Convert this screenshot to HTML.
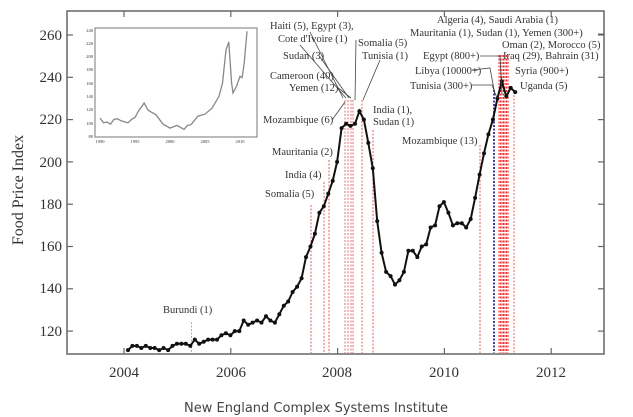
<!DOCTYPE html>
<html><head><meta charset="utf-8"><style>
html,body{margin:0;padding:0;background:#fff;}
svg{display:block;}
text{font-family:"Liberation Serif",serif;fill:#333;}
</style></head><body>
<svg id="s" width="633" height="417" viewBox="0 0 633 417" xmlns="http://www.w3.org/2000/svg">
<rect width="633" height="417" fill="#fff"/>
<g id="vl"></g>
<rect x="67" y="11" width="537" height="343" fill="none" stroke="#666" stroke-width="1.5"/>
<g stroke="#666" stroke-width="1.2" id="ticks"></g>
<g font-size="15" text-anchor="end">
<text x="62" y="40">260</text><text x="62" y="82">240</text><text x="62" y="124">220</text>
<text x="62" y="167">200</text><text x="62" y="209">180</text><text x="62" y="251">160</text>
<text x="62" y="293">140</text><text x="62" y="336">120</text>
</g>
<g font-size="15" text-anchor="middle">
<text x="124" y="377">2004</text><text x="231" y="377">2006</text><text x="337" y="377">2008</text>
<text x="444" y="377">2010</text><text x="551" y="377">2012</text>
</g>
<text transform="translate(23,190) rotate(-90)" font-size="16" text-anchor="middle">Food Price Index</text>
<rect x="95" y="28" width="162" height="109" fill="#fff" stroke="#777" stroke-width="1"/>
<g font-size="4.5" text-anchor="middle" fill="#555">
<text x="100" y="143">1990</text><text x="135" y="143">1995</text><text x="170" y="143">2000</text><text x="205" y="143">2005</text><text x="240" y="143">2010</text>
</g>
<g font-size="4.5" text-anchor="end">
<text x="93" y="32">240</text><text x="93" y="45">220</text><text x="93" y="58">200</text><text x="93" y="71">180</text><text x="93" y="85">160</text><text x="93" y="98">140</text><text x="93" y="111">120</text><text x="93" y="125">100</text><text x="93" y="138">80</text>
</g>
<path id="ins" fill="none" stroke="#888" stroke-width="1.3"/>
<path id="main" fill="none" stroke="#111" stroke-width="2"/>
<g id="dots" fill="#111"></g>
<g font-size="10.5" fill="#333">
<text x="163" y="313">Burundi (1)</text>
<text x="270" y="29">Haiti (5), Egypt (3),</text>
<text x="278" y="42">Cote d'Ivoire (1)</text>
<text x="283" y="59">Sudan (3)</text>
<text x="270" y="79">Cameroon (40)</text>
<text x="289" y="91">Yemen (12)</text>
<text x="263" y="123">Mozambique (6)</text>
<text x="272" y="155">Mauritania (2)</text>
<text x="285" y="178">India (4)</text>
<text x="265" y="197">Somalia (5)</text>
<text x="358" y="46">Somalia (5)</text>
<text x="362" y="59">Tunisia (1)</text>
<text x="373" y="113">India (1),</text>
<text x="373" y="125">Sudan (1)</text>
<text x="402" y="144">Mozambique (13)</text>
<text x="437" y="23">Algeria (4), Saudi Arabia (1)</text>
<text x="410" y="36">Mauritania (1), Sudan (1), Yemen (300+)</text>
<text x="502" y="48">Oman (2), Morocco (5)</text>
<text x="423" y="59">Egypt (800+)</text>
<text x="503" y="59">Iraq (29), Bahrain (31)</text>
<text x="415" y="74">Libya (10000+)</text>
<text x="515" y="74">Syria (900+)</text>
<text x="410" y="89">Tunisia (300+)</text>
<text x="520" y="89">Uganda (5)</text>
</g>
<g stroke="#444" stroke-width="0.8" fill="none">
<path d="M310 32 L343 98"/><path d="M300 45 L346 98"/><path d="M320 57 L349 98"/>
<path d="M337 87 L351 98"/><path d="M332 120 L345 102"/>
<path d="M356 40 L355 100"/><path d="M380 60 L363 100"/>
<path d="M480 56 L500 56 L502 95"/><path d="M472 70 L490 68 L495 95"/><path d="M472 85 L492 85 L497 98"/>
<path d="M598 34 L604 34"/>
</g>
<text x="316" y="412" font-size="13" text-anchor="middle" style="font-family:'DejaVu Sans',sans-serif;fill:#444">New England Complex Systems Institute</text>
</svg>
<script>
function X(t){return 124+(t-2004)*53.4;}
function Y(v){return 35+(260-v)*2.115;}
var t=document.getElementById('ticks'),h='';
[260,240,220,200,180,160,140,120].forEach(function(v){var y=Y(v);h+='<line x1="67" y1="'+y+'" x2="73" y2="'+y+'"/><line x1="598" y1="'+y+'" x2="604" y2="'+y+'"/>';});
[2004,2006,2008,2010,2012].forEach(function(yr){var x=X(yr);h+='<line x1="'+x+'" y1="354" x2="'+x+'" y2="348"/><line x1="'+x+'" y1="11" x2="'+x+'" y2="17"/>';});
t.innerHTML=h;
var d=[111,113,113,112,113,112,112,111,112,111,113,114,
114,114,113,116,114,115,116,116,116,118,119,118,
120,120,125,123,124,125,124,127,125,124,128,132,
134,138.5,141,145,155,160,166,176,179,185,191,200,216,218,217,218,224,220,209,197,172,157,148,146,142,144,148,158,158,155,160,161,
169,170,179,181,176,170,171,171,169,173,183,194,204,213,220,230,238,231,235,233];
var p='',dots='';
d.forEach(function(v,i){var x=128+i*4.45,y=Y(v);p+=(i?'L':'M')+x.toFixed(1)+' '+y.toFixed(1);dots+='<circle cx="'+x.toFixed(1)+'" cy="'+y.toFixed(1)+'" r="2"/>';});
document.getElementById('main').setAttribute('d',p);
document.getElementById('dots').innerHTML=dots;
var vl='';
function L(x,top,col,w){vl+='<line x1="'+x+'" y1="'+top+'" x2="'+x+'" y2="353" stroke="'+col+'" stroke-width="'+(w||1)+'" stroke-dasharray="2,1.5"/>';}
L(191.5,322,'#d9a0a0');
L(311,205,'#e06060');L(324,182,'#e06060');L(329,160,'#e06060');
[345,348,351,353].forEach(function(x){L(x,100,'#e86060',0.9);});
L(362,100,'#e06060');L(373,130,'#e06060');
L(480,145,'#e06060');
L(494,90,'#2a2a9a',1.8);
for(var x=499;x<=508;x+=1.5)L(x,55,'#ee3030',1.1);
L(514,95,'#e06060');
document.getElementById('vl').innerHTML=vl;
var ins=[[1990,107],[1990.5,100],[1991,101],[1991.5,98],[1992,105],[1992.5,106],[1993,103],[1994,100],[1994.5,105],[1995,108],[1995.5,118],[1996,125],[1996.3,130],[1996.8,120],[1997,118],[1998,112],[1999,98],[2000,92],[2001,96],[2002,90],[2002.5,96],[2003,97],[2004,110],[2005,113],[2006,122],[2007,140],[2007.5,160],[2008,210],[2008.4,222],[2008.8,160],[2009,145],[2009.5,155],[2010,170],[2010.3,168],[2010.6,190],[2011,238]];
var q='';ins.forEach(function(a,i){q+=(i?'L':'M')+(100+(a[0]-1990)*7).toFixed(1)+' '+(30+(240-a[1])*0.6625).toFixed(1);});
document.getElementById('ins').setAttribute('d',q);
</script>
</body></html>
